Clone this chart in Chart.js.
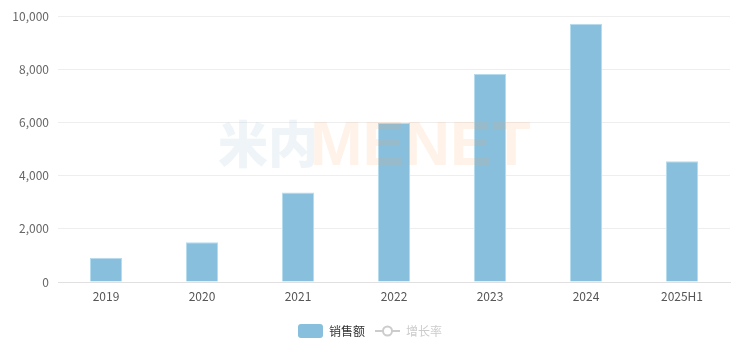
<!DOCTYPE html>
<html>
<head>
<meta charset="utf-8">
<script src="https://cdn.jsdelivr.net/npm/chart.js@4"></script>
<style>
  html, body { margin: 0; padding: 0; background: #fff; }
  #wrap { width: 747px; height: 352px; }
</style>
</head>
<body>
<div id="wrap"><canvas id="salesChart" width="747" height="352"></canvas></div>
<script>
// data
const years = ['2019', '2020', '2021', '2022', '2023', '2024', '2025H1'];
const sales = [910, 1500, 3370, 5980, 7830, 9720, 4540];
const growthRate = []; // series is switched off in the legend, values not shown
const yTicks = [0, 2000, 4000, 6000, 8000, 10000];

const barColor = '#87bfdc';
const greyOff = '#cccccc';

Chart.defaults.font.family = "'Noto Sans CJK SC', 'Noto Sans', sans-serif";
Chart.defaults.font.size = 12;
Chart.defaults.color = '#666';

// legend icons like the original: rounded block and line with hollow circle
function makeBarIcon(){
  const c = document.createElement('canvas')
  c.width = 25; c.height = 14
  const g = c.getContext('2d')
  g.fillStyle = barColor
  g.beginPath()
  g.roundRect(0, 0, 25, 14, 3)
  g.fill()
  return c
}
function makeLineIcon(){
  const c = document.createElement('canvas')
  c.width = 25; c.height = 14
  const g = c.getContext('2d')
  g.strokeStyle = greyOff
  g.lineWidth = 2
  g.beginPath(); g.moveTo(0, 7); g.lineTo(25, 7); g.stroke()
  g.fillStyle = '#fff'
  g.beginPath(); g.arc(12.5, 7, 4.5, 0, Math.PI * 2); g.fill(); g.stroke()
  return c
}
const barIcon = makeBarIcon()
const lineIcon = makeLineIcon()

// faint watermark drawn over the plot
const watermark = {
  id: 'watermark',
  afterDatasetsDraw(chart){
    const ctx = chart.ctx
    ctx.save()
    ctx.textBaseline = 'alphabetic'
    ctx.font = "900 50px 'Noto Sans CJK SC', sans-serif"
    ctx.fillStyle = 'rgba(200, 220, 230, 0.3)'
    ctx.fillText('米内', 218, 163)
    ctx.font = "bold 63px 'Liberation Sans', Arial, sans-serif"
    ctx.fillStyle = 'rgba(250, 170, 110, 0.15)'
    ctx.fillText('MENET', 310, 165)
    ctx.restore()
  }
}

const ctx = document.getElementById('salesChart').getContext('2d');
const salesChart = new Chart(ctx, {
  type: 'bar',
  data: {
    labels: years,
    datasets: [
      {
        label: '销售额',
        data: sales,
        backgroundColor: barColor,
        borderColor: '#b5dbee',
        borderWidth: 1,
        borderSkipped: 'bottom',
        barPercentage: 1 / 3,
        categoryPercentage: 1,
        pointStyle: barIcon
      },
      {
        type: 'line',
        label: '增长率',
        data: growthRate,
        hidden: true,
        borderColor: greyOff,
        pointStyle: lineIcon
      }
    ]
  },
  options: {
    responsive: false,
    animation: false,
    layout: {
      padding: { top: 12, right: 17, left: 10, bottom: 5 }
    },
    plugins: {
      tooltip: { enabled: false },
      legend: {
        position: 'bottom',
        onClick: null,
        labels: {
          usePointStyle: true,
          pointStyleWidth: 25,
          boxHeight: 14,
          padding: 10,
          font: { size: 12 },
          generateLabels(chart){
            return chart.data.datasets.map((ds, i) => ({
              text: ds.label,
              pointStyle: ds.pointStyle,
              fillStyle: 'transparent',
              strokeStyle: 'transparent',
              lineWidth: 0,
              fontColor: ds.hidden ? greyOff : '#333',
              hidden: false,
              datasetIndex: i
            }))
          }
        }
      }
    },
    scales: {
      x: {
        grid: { display: false, drawTicks: false },
        border: { display: true, color: '#e0e0e0' },
        ticks: { color: '#555', padding: 7, font: { size: 12 } },
        afterFit(scale){ scale.height = 33 }
      },
      y: {
        min: 0,
        max: 10000,
        afterBuildTicks(scale){ scale.ticks = yTicks.map(v => ({ value: v })) },
        grid: { color: '#eeeeee', drawTicks: false },
        border: { display: false },
        ticks: {
          color: '#666',
          padding: 9,
          font: { size: 12 },
          callback: value => value.toLocaleString('en-US')
        },
        afterFit(scale){ scale.width = 48 }
      }
    }
  },
  plugins: [watermark]
});
</script>
</body>
</html>
